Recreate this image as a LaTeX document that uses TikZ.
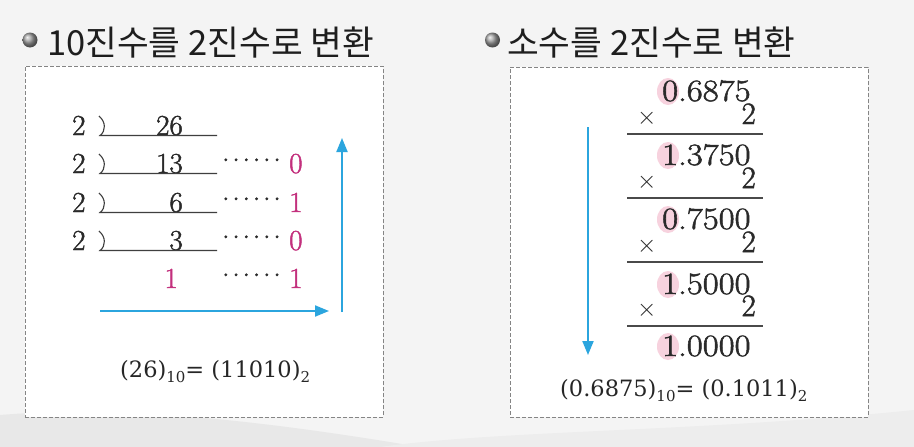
\documentclass[tikz,border=0pt]{standalone}
\usepackage{fontspec}
\newfontfamily\krfont{Noto Sans CJK KR}
\newfontfamily\frmfont{DejaVu Serif}
\newfontfamily\numfont{Latin Modern Roman}[FakeBold=1.6]
\usetikzlibrary{arrows.meta,shapes.geometric}
\definecolor{bgc}{HTML}{F4F4F4}
\definecolor{swoosh}{HTML}{E8E8E8}
\definecolor{titlec}{HTML}{1E1E1E}
\definecolor{boxline}{HTML}{858585}
\definecolor{arrowc}{HTML}{2BA5DE}
\definecolor{remc}{HTML}{C3307D}
\definecolor{pinkc}{HTML}{F7D2DE}
\definecolor{txtc}{HTML}{2A2A2A}
\newcommand{\remdots}{\raisebox{12pt}{.\kern3pt.\kern3pt.\kern3pt.\kern3pt.\kern3pt.}}
\newcommand{\sbs}[1]{\raisebox{-5pt}{\fontsize{15}{15}\selectfont #1}}
\begin{document}
\begin{tikzpicture}[x=1pt,y=-1pt,
  title/.style={anchor=base west, inner sep=0pt, font=\krfont\fontsize{34.5}{34.5}\selectfont, text=titlec},
  bullet/.style={circle, inner sep=0pt, minimum size=15pt, shading=ball, ball color=gray!75},
  dbox/.style={draw=boxline, fill=white, dash pattern=on 4pt off 2pt, line width=1pt, minimum width=358pt, inner sep=0pt},
  numtxt/.style={inner sep=0pt, text height=20pt, text depth=0pt, font=\numfont\fontsize{29}{29}\selectfont, text=txtc},
  lnum/.style={numtxt, anchor=base east},
  ltwo/.style={numtxt, anchor=base west},
  rem/.style={numtxt, anchor=base west, text=remc},
  dts/.style={numtxt, anchor=base west},
  rnum/.style={numtxt, anchor=base west, font=\numfont\fontsize{31}{31}\selectfont},
  rtimes/.style={numtxt, anchor=base west, font=\fontsize{31}{31}\selectfont},
  rtwo/.style={numtxt, anchor=base east, font=\numfont\fontsize{31}{31}\selectfont},
  hl/.style={ellipse, fill=pinkc, minimum width=22pt, minimum height=27pt, inner sep=0pt},
  rule/.style={draw=txtc!85, line width=1.2pt},
  divline/.style={draw=txtc!90, line width=1.1pt},
  formula/.style={anchor=base west, inner sep=0pt, font=\frmfont\fontsize{22.5}{22.5}\selectfont, text=black!85},
  flow/.style={draw=arrowc, line width=2pt, -{Triangle[length=14pt,width=11pt]}}
]
\useasboundingbox (0,0) rectangle (914,447);
\fill[bgc] (0,0) rectangle (914,447);
\fill[swoosh] (0,447) -- (0,415) .. controls (120,405) and (260,420) .. (420,447) -- cycle;
\fill[swoosh!60!bgc] (380,447) .. controls (500,430) and (700,432) .. (914,410) -- (914,447) -- cycle;

% titles
\node[bullet] (b1) at (30,40) {};
\node[title] (t1) at (47,56) {10진수를 2진수로 변환};
\node[bullet] (b2) at (492.5,40) {};
\node[title] (t2) at (507,56) {소수를 2진수로 변환};

% boxes
\node[dbox, minimum height=351pt] (box1) at (204,241.5) {};
\node[dbox, minimum height=350pt] (box2) at (689,242) {};

% ---- left: division ----
\foreach \yy/\nn [count=\i] in {135/26, 173/13, 212/6, 250/3}{
  \node[ltwo] (two\i) at (72,\yy) {2};
  \node[lnum] (q\i) at (183,\yy) {\nn};
  \draw[divline] (99,\yy-19) .. controls (106,\yy-13) and (106,\yy-4) .. (100,\yy+0.5) -- (217,\yy+0.5);
}
\node[lnum, text=remc] (q5) at (178,288) {1};
\foreach \yy/\rr [count=\i] in {173/0, 212/1, 250/0, 288/1}{
  \node[dts] (d\i) at (222,\yy) {\remdots};
  \node[rem] (r\i) at (289,\yy) {\rr};
}
\coordinate (h1) at (100,311);
\coordinate (h2) at (329,311);
\coordinate (v1) at (342,312);
\coordinate (v2) at (342,138);
\draw[flow] (h1) -- (h2);
\draw[flow] (v1) -- (v2);
\node[formula] (f1) at (120,377) {(26)\sbs{10}= (11010)\sbs{2}};

% ---- right: multiplication ----
\foreach \yy/\ii/\ff [count=\i] in {101/0/6875, 165/1/3750, 229/0/7500, 294/1/5000, 356/1/0000}{
  \node[hl] (c\i) at (668,\yy-9.5) {};
  \node[rnum] (n\i) at (662,\yy) {\scalebox{1.12}[1]{\ii.\ff}};
}
\foreach \yy [count=\i] in {124, 188, 252, 316}{
  \node[rtimes] (x\i) at (637,\yy) {$\times$};
  \node[rtwo] (m\i) at (756,\yy) {2};
  \draw[rule] (627,\yy+10) -- (763,\yy+10);
}
\coordinate (a1) at (588,127);
\coordinate (a2) at (588,355);
\draw[flow] (a1) -- (a2);
\node[formula] (f2) at (560,396) {(0.6875)\sbs{10}= (0.1011)\sbs{2}};
\end{tikzpicture}
\end{document}
